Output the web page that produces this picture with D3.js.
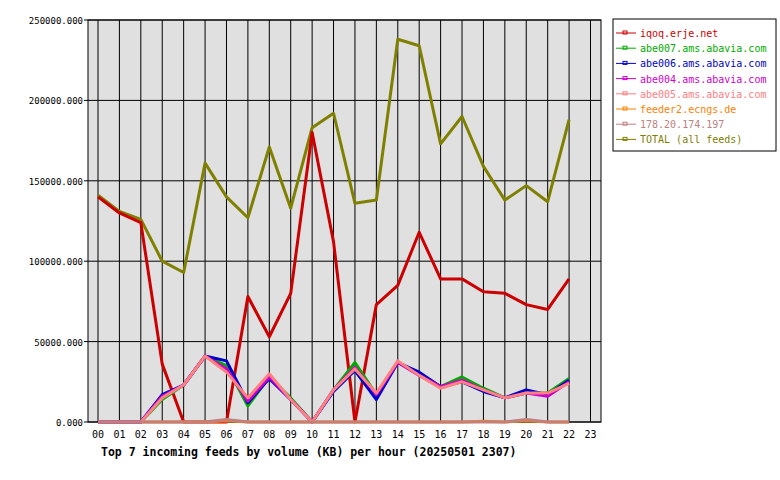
<!DOCTYPE html><html><head><meta charset="utf-8">
<script src="https://cdn.jsdelivr.net/npm/d3@7"></script>
<style>body{margin:0;background:#fff}text{font-family:"DejaVu Sans Mono",monospace;font-size:10px}</style></head><body><svg width="780" height="480"></svg><script>
const hours=["00","01","02","03","04","05","06","07","08","09","10","11","12","13","14","15","16","17","18","19","20","21","22","23"];
const names=["iqoq.erje.net","abe007.ams.abavia.com","abe006.ams.abavia.com","abe004.ams.abavia.com","abe005.ams.abavia.com","feeder2.ecngs.de","178.20.174.197","TOTAL (all feeds)"];
const colors=["#cc0000","#00aa00","#0000cc","#cc00cc","#ff8080","#ff8000","#c08080","#808000"];
const iqoq=[140000,130000,124000,36000,0,0,0,78000,53000,80000,180000,112000,0,73000,85000,118000,89000,89000,81000,80000,73000,70000,89000];
const abe007=[0,0,0,14000,23000,41000,35000,10000,28000,15000,0,20000,37000,17000,37000,30000,22000,28000,21000,15000,18000,18000,27000];
const abe006=[0,0,0,17000,23000,41000,38000,12000,27000,14000,0,19000,32000,14000,37000,31000,22000,25000,19000,15000,20000,17000,26000];
const abe004=[0,0,0,16000,23000,41000,33000,13000,28000,14000,0,20000,34000,17000,37000,29000,22000,26000,20000,15000,18000,16000,25000];
const abe005=[0,0,0,15000,23000,41000,31000,15000,30000,14000,0,20000,33000,18000,38000,29000,21000,25000,20000,15000,18000,18000,24000];
const feeder2=[0,0,0,0,0,0,800,0,0,0,0,0,0,0,0,0,0,0,500,0,800,0,0];
const ip178=[0,0,0,0,0,0,1500,0,0,0,0,0,0,0,0,0,0,0,0,0,1500,0,0];
const total=[141000,131000,126000,100000,93000,161000,140000,127000,171000,133000,183000,192000,136000,138000,238000,234000,173000,190000,159000,138000,147000,137000,188000];
const yTicks=[0,50000,100000,150000,200000,250000];
const series=[iqoq,abe007,abe006,abe004,abe005,feeder2,ip178,total];
const svg=d3.select("svg");
const L=88,R=601,T=20,B=422;
const x=d3.scalePoint().domain(hours).range([98,590.5]);
const y=d3.scaleLinear().domain([0,250000]).range([B,T]);
svg.append("rect").attr("x",L).attr("y",T).attr("width",R-L).attr("height",B-T).attr("fill","#e0e0e0");
hours.forEach(h=>svg.append("line").attr("x1",x(h)).attr("x2",x(h)).attr("y1",T).attr("y2",B).attr("stroke","#000"));
yTicks.forEach(v=>{svg.append("line").attr("x1",L).attr("x2",R).attr("y1",y(v)).attr("y2",y(v)).attr("stroke","#000");
 svg.append("line").attr("x1",L-4).attr("x2",L).attr("y1",y(v)).attr("y2",y(v)).attr("stroke","#000");
 svg.append("text").attr("x",L-5).attr("y",y(v)+4).attr("text-anchor","end").style("font-size","9px").text(d3.format(".3f")(v));});
svg.append("rect").attr("x",L).attr("y",T).attr("width",R-L).attr("height",B-T).attr("fill","none").attr("stroke","#000");
hours.forEach(h=>svg.append("text").attr("x",x(h)).attr("y",438).attr("text-anchor","middle").text(h));
const line=d3.line().x((d,i)=>x(hours[i])).y(d=>y(d));
[7,0,5,1,2,3,4,6].forEach(k=>svg.append("path").attr("d",line(series[k])).attr("fill","none").attr("stroke",colors[k]).attr("stroke-width",3).attr("stroke-linejoin","round"));
svg.append("text").attr("x",101).attr("y",456).attr("font-weight","bold").style("font-size","11.5px").text("Top 7 incoming feeds by volume (KB) per hour (20250501 2307)");
const lg=svg.append("g");
lg.append("rect").attr("x",613).attr("y",19).attr("width",163).attr("height",132).attr("fill","#fff").attr("stroke","#000");
names.forEach((n,i)=>{const yy=33+i*15.2;
 lg.append("line").attr("x1",616).attr("x2",636).attr("y1",yy).attr("y2",yy).attr("stroke",colors[i]);
 lg.append("rect").attr("x",623).attr("y",yy-2).attr("width",4).attr("height",3).attr("fill","none").attr("stroke",colors[i]);
 lg.append("text").attr("x",640).attr("y",yy+4).attr("fill",colors[i]).text(n);});
</script></body></html>
